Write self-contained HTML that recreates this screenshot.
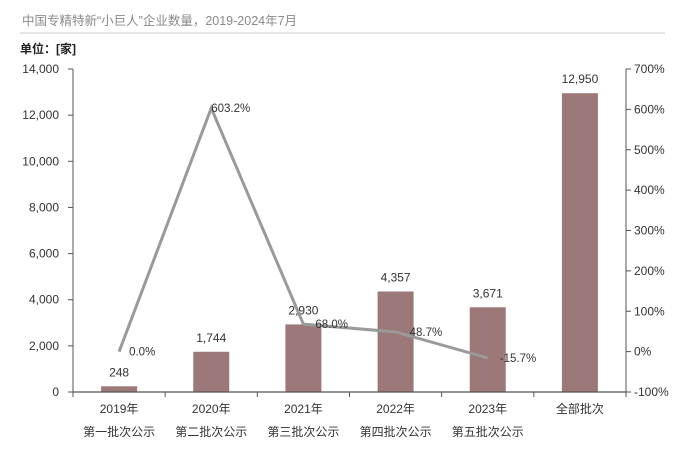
<!DOCTYPE html>
<html><head><meta charset="utf-8"><style>
body{margin:0;background:#fff;width:685px;height:449px;overflow:hidden}
svg{font-family:"Liberation Sans","Noto Sans CJK SC",sans-serif}
</style></head><body>
<svg id="c" width="685" height="449">
<text x="22" y="25" font-size="12.5" fill="#8a8a8a">中国专精特新“小巨人”企业数量，2019-2024年7月</text>
<line x1="20" y1="33" x2="665" y2="33" stroke="#ddd" stroke-width="1.5"/>
<text x="20" y="53" font-size="12" font-weight="bold" fill="#222">单位：[家]</text>
<g id="g"></g>
</svg>
<script>
const years=["2019年","2020年","2021年","2022年","2023年","全部批次"];
const batches=["第一批次公示","第二批次公示","第三批次公示","第四批次公示","第五批次公示",""];
const counts=[248,1744,2930,4357,3671,12950];
const countLabels=["248","1,744","2,930","4,357","3,671","12,950"];
const growth=[0.0,603.2,68.0,48.7,-15.7];
const growthLabels=["0.0%","603.2%","68.0%","48.7%","-15.7%"];
const leftTicks=[0,2000,4000,6000,8000,10000,12000,14000];
const rightTicks=[-100,0,100,200,300,400,500,600,700];
const X0=73,X1=626,Y0=392,Y1=69;
const cw=(X1-X0)/years.length;
const xc=i=>X0+cw*(i+0.5);
const yL=v=>Y0-(v/14000)*(Y0-Y1);
const yR=v=>Y0-((v+100)/800)*(Y0-Y1);
const ns="http://www.w3.org/2000/svg",g=document.getElementById('g');
function mk(t,a,txt){const e=document.createElementNS(ns,t);for(const k in a)e.setAttribute(k,a[k]);if(txt!==undefined)e.textContent=txt;g.appendChild(e);return e;}
let e=mk('line',{x1:X0,y1:Y1,x2:X0,y2:Y0,stroke:'#555','stroke-width':1});


e=mk('line',{x1:X1,y1:Y1,x2:X1,y2:Y0,stroke:'#555','stroke-width':1});


leftTicks.forEach(v=>{
 mk('line',{x1:X0-5,x2:X0,y1:yL(v),y2:yL(v),stroke:'#555'});
 e=mk('text',{x:X0-14,y:yL(v)+4,'font-size':12,fill:'#333','text-anchor':'end'},v.toLocaleString('en-US'));
 
 
});
rightTicks.forEach(v=>{
 mk('line',{x1:X1,x2:X1+5,y1:yR(v),y2:yR(v),stroke:'#555'});
 e=mk('text',{x:X1+8,y:yR(v)+4,'font-size':12,fill:'#333'},v+'%');
 
 
});
counts.forEach((v,i)=>{
 e=mk('rect',{x:xc(i)-18,y:yL(v),width:36,height:Y0-yL(v),fill:'#9c7878'});
 
 
 e=mk('text',{x:xc(i),y:yL(v)-10,'font-size':12,fill:'#333','text-anchor':'middle'},countLabels[i]);
 
 
});
e=mk('line',{x1:X0,y1:Y0,x2:X1,y2:Y0,stroke:'#555','stroke-width':1.2});


for(let i=0;i<=years.length;i++)mk('line',{x1:X0+cw*i,x2:X0+cw*i,y1:Y0,y2:Y0+5,stroke:'#555'});
years.forEach((y,i)=>{
 e=mk('text',{x:xc(i),y:413,'font-size':12,fill:'#333','text-anchor':'middle'},y);
 
 
 if(batches[i]){e=mk('text',{x:xc(i),y:436,'font-size':12,fill:'#333','text-anchor':'middle'},batches[i]);
 
 }
});
e=mk('polyline',{points:growth.map((v,i)=>xc(i)+','+yR(v)).join(' '),fill:'none',stroke:'#9a9a9a','stroke-width':3});


const off=[[10,0],[0,0],[12,0],[14,0],[12,0]];
growth.forEach((v,i)=>{
 e=mk('text',{x:xc(i)+off[i][0],y:yR(v)+off[i][1]+4,'font-size':11.5,fill:'#333'},growthLabels[i]);
 
 
});
</script>
</body></html>
